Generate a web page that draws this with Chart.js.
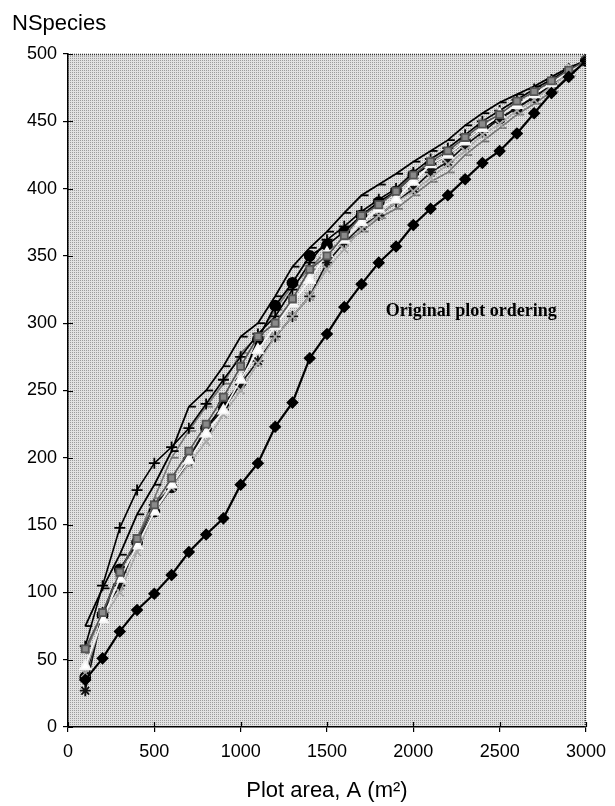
<!DOCTYPE html>
<html>
<head>
<meta charset="utf-8">
<script src="https://cdn.jsdelivr.net/npm/chart.js@4.4.1/dist/chart.umd.min.js"></script>
<style>
  html, body { margin: 0; padding: 0; background: #ffffff; }
  #wrap { width: 615px; height: 806px; }
</style>
</head>
<body>
<div id="wrap"><canvas id="c" width="615" height="806"></canvas></div>
<script>
// Cumulative plot area (m²), one point per added 100 m² plot
const plotArea = [100, 200, 300, 400, 500, 600, 700, 800, 900, 1000,
                  1100, 1200, 1300, 1400, 1500, 1600, 1700, 1800, 1900, 2000,
                  2100, 2200, 2300, 2400, 2500, 2600, 2700, 2800, 2900, 3000];

// Species count for the original plot ordering
const originalOrder = [35, 51, 71, 87, 99, 113, 130, 143, 155, 180,
                       196, 223, 241, 274, 292, 312, 329, 345, 357, 373,
                       385, 395, 407, 419, 428, 441, 456, 471, 483, 495];

// Species counts for randomised plot orderings
const random1 = [58, 85, 115, 140, 165, 185, 205, 225, 245, 268,
                 290, 300, 318, 340, 350, 365, 380, 388, 398, 410,
                 420, 428, 438, 448, 455, 465, 472, 480, 488, 495];
const random2 = [45, 80, 110, 135, 160, 180, 198, 218, 235, 258,
                 280, 298, 315, 332, 352, 362, 375, 385, 392, 405,
                 418, 425, 435, 445, 455, 462, 470, 478, 487, 495];
const random3 = [40, 80, 100, 130, 160, 178, 195, 212, 232, 250,
                 270, 290, 305, 320, 340, 355, 370, 380, 390, 398,
                 408, 418, 428, 440, 448, 458, 466, 476, 486, 495];
const random4 = [27, 85, 105, 138, 165, 178, 200, 222, 236, 255,
                 272, 290, 305, 320, 345, 360, 372, 380, 390, 400,
                 412, 420, 432, 442, 452, 460, 468, 477, 486, 495];
const random5 = [37, 83, 117, 137, 160, 178, 198, 222, 239, 256,
                 288, 313, 330, 350, 358, 368, 380, 390, 398, 410,
                 418, 425, 435, 445, 452, 460, 468, 477, 486, 495];
const random6 = [60, 105, 148, 176, 196, 208, 222, 240, 258, 275,
                 292, 305, 325, 345, 362, 372, 383, 392, 400, 412,
                 422, 430, 440, 450, 458, 466, 474, 481, 489, 495];
const random7 = [75, 103, 128, 158, 180, 205, 238, 250, 268, 290,
                 300, 320, 342, 356, 368, 382, 395, 403, 411, 420,
                 428, 436, 447, 456, 464, 470, 476, 483, 490, 495];
const random8 = [55, 85, 115, 140, 170, 200, 220, 238, 255, 278,
                 290, 310, 328, 340, 355, 360, 368, 378, 385, 395,
                 405, 412, 425, 435, 445, 455, 463, 472, 484, 495];

const xTicks = [0, 500, 1000, 1500, 2000, 2500, 3000];
const yTicks = [0, 50, 100, 150, 200, 250, 300, 350, 400, 450, 500];

const toPoints = vals => plotArea.map((a, i) => ({ x: a, y: vals[i] }));

const sans = '"Liberation Sans", Arial, sans-serif';

// Grey halftone fill for the plotting area
function makeStipple(ctx) {
  const p = document.createElement('canvas');
  p.width = 2; p.height = 2;
  const g = p.getContext('2d');
  g.fillStyle = '#e2e2e2'; g.fillRect(0, 0, 2, 2);
  g.fillStyle = '#9c9c9c'; g.fillRect(0, 0, 1, 1);
  return ctx.createPattern(p, 'repeat');
}

const frame = {
  id: 'frame',
  beforeDraw(chart) {
    const { ctx, chartArea: a } = chart;
    ctx.save();
    ctx.fillStyle = makeStipple(ctx);
    ctx.fillRect(a.left, a.top, a.right - a.left, a.bottom - a.top);
    ctx.restore();
  },
  afterDatasetsDraw(chart) {
    const { ctx, chartArea: a, scales } = chart;
    ctx.save();
    // dotted top and right edges of the plot frame
    ctx.strokeStyle = '#333';
    ctx.lineWidth = 1.5;
    ctx.setLineDash([1, 1]);
    ctx.beginPath();
    ctx.moveTo(a.left, a.top + 0.5); ctx.lineTo(a.right, a.top + 0.5);
    ctx.moveTo(a.right - 0.5, a.top); ctx.lineTo(a.right - 0.5, a.bottom);
    ctx.stroke();
    ctx.setLineDash([]);
    // inner halves of the crossing tick marks
    ctx.strokeStyle = '#000';
    ctx.lineWidth = 1.2;
    ctx.beginPath();
    yTicks.forEach(v => {
      const y = Math.round(scales.y.getPixelForValue(v)) + 0.5;
      ctx.moveTo(a.left, y); ctx.lineTo(a.left + 5, y);
    });
    xTicks.forEach(v => {
      const x = Math.round(scales.x.getPixelForValue(v)) + 0.5;
      ctx.moveTo(x, a.bottom); ctx.lineTo(x, a.bottom - 5);
    });
    ctx.stroke();
    // label for the original ordering curve
    ctx.fillStyle = '#000';
    ctx.font = 'bold 18px "Liberation Serif", "Times New Roman", serif';
    ctx.textAlign = 'left';
    ctx.textBaseline = 'middle';
    ctx.fillText('Original plot ordering',
      scales.x.getPixelForValue(1840), scales.y.getPixelForValue(309));
    ctx.restore();
  }
};

function series(vals, style, border, fill, width, radius) {
  return {
    data: toPoints(vals),
    borderColor: border,
    borderWidth: width,
    pointStyle: style,
    pointRadius: radius,
    pointBackgroundColor: fill,
    pointBorderColor: border,
    pointBorderWidth: 1.8,
    tension: 0,
    fill: false
  };
}

new Chart(document.getElementById('c'), {
  type: 'line',
  data: {
    datasets: [
      series(originalOrder, 'rectRot', '#000', '#000', 2.2, 5),
      series(random1, 'rect', '#555', '#8a8a8a', 1.6, 5),
      series(random2, 'triangle', '#f4f4f4', '#ffffff', 1.6, 6),
      series(random3, 'crossRot', '#a8a8a8', '#a8a8a8', 1.4, 5.5),
      series(random4, 'star', '#111', '#111', 1.6, 5.5),
      series(random5, 'circle', '#000', '#000', 1.8, 5),
      series(random6, 'cross', '#000', '#000', 1.6, 5.5),
      series(random7, 'dash', '#000', '#000', 1.8, 7),
      series(random8, 'dash', '#777', '#777', 1.6, 7)
    ]
  },
  options: {
    responsive: false,
    animation: false,
    devicePixelRatio: 1,
    layout: { padding: { left: 12, right: 26, top: 0, bottom: 0 } },
    plugins: {
      legend: { display: false },
      tooltip: { enabled: false },
      title: {
        display: true,
        text: 'NSpecies',
        align: 'start',
        color: '#000',
        font: { family: sans, size: 22, weight: 'normal' },
        padding: { top: 11, bottom: 16.6 }
      }
    },
    scales: {
      x: {
        type: 'linear',
        min: 0, max: 3000,
        afterFit: s => { s.height = 79; },
        afterBuildTicks: s => { s.ticks = xTicks.map(v => ({ value: v })); },
        border: { display: true, color: '#000', width: 1.5 },
        grid: { drawOnChartArea: false, drawTicks: true, tickLength: 5, color: '#000', lineWidth: 1.2 },
        ticks: {
          color: '#000', padding: 9, maxRotation: 0,
          font: { family: sans, size: 18 },
          callback: v => String(v)
        },
        title: {
          display: true,
          text: 'Plot area, A (m²)',
          color: '#000',
          font: { family: sans, size: 22 },
          padding: { top: 4, bottom: 2 }
        }
      },
      y: {
        type: 'linear',
        min: 0, max: 500,
        afterFit: s => { s.width = 56; },
        afterBuildTicks: s => { s.ticks = yTicks.map(v => ({ value: v })); },
        border: { display: true, color: '#000', width: 1.5 },
        grid: { drawOnChartArea: false, drawTicks: true, tickLength: 5, color: '#000', lineWidth: 1.2 },
        ticks: {
          color: '#000', padding: 6,
          font: { family: sans, size: 18 },
          callback: v => String(v)
        }
      }
    }
  },
  plugins: [frame]
});
</script>
</body>
</html>
